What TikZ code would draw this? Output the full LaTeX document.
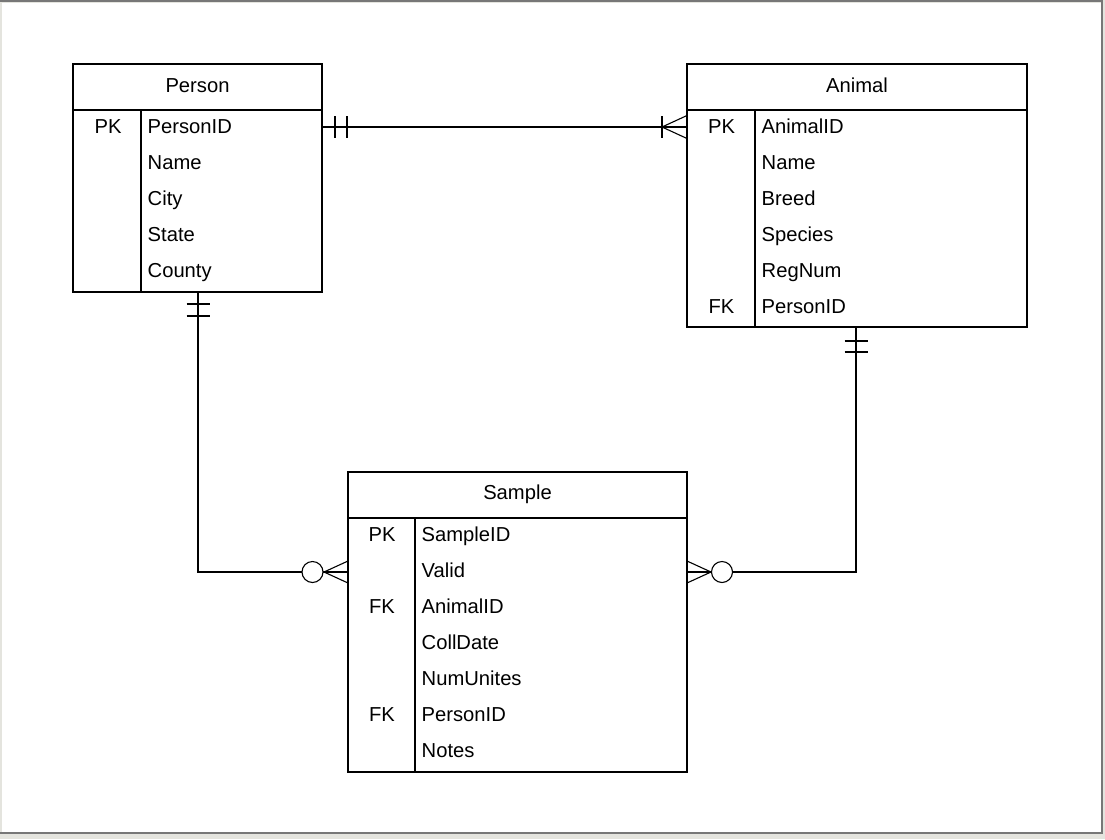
\documentclass[tikz,border=0pt]{standalone}
\usepackage{fontspec}
\setmainfont{Liberation Sans}
\usetikzlibrary{calc}
\definecolor{framedark}{HTML}{777777}
\definecolor{framelight}{HTML}{E4E4DE}
\begin{document}
\begin{tikzpicture}[x=1pt,y=-1pt,
  tablebox/.style={draw, line width=1.6pt, anchor=north west, inner sep=0pt, outer sep=0pt},
  boxline/.style={line width=1.6pt},
  txt/.style={inner sep=0pt, font=\fontsize{20.2}{24}\selectfont},
  fieldtext/.style={txt, anchor=base west},
  keytext/.style={txt, anchor=base},
  conn/.style={line width=1.1pt},
]
% frame
\useasboundingbox (0,0) rectangle (1105,839);
\fill[framelight] (0,0) rectangle (1105,839);
\fill[white] (2,3) rectangle (1101,832);
\fill[framedark] (0,0) rectangle (1103,2);
\fill[framedark] (1101,0) rectangle (1103,834);
\fill[framedark] (0,832) rectangle (1103,834);

% Person
\node[tablebox, minimum width=249pt, minimum height=228pt] (person) at (73,64) {};
\draw[boxline] ($(person.north west)+(0,46)$) -- ($(person.north east)+(0,46)$);
\draw[boxline] ($(person.north west)+(68,46)$) -- ($(person.south west)+(68,0)$);
\node[keytext] (personT) at (197.5,92) {Person};
\node[keytext] (personPK) at (108,133) {PK};
\node[fieldtext] (personF1) at (147.5,133) {PersonID};
\node[fieldtext] (personF2) at (147.5,169) {Name};
\node[fieldtext] (personF3) at (147.5,205) {City};
\node[fieldtext] (personF4) at (147.5,241) {State};
\node[fieldtext] (personF5) at (147.5,277) {County};

% Animal
\node[tablebox, minimum width=340pt, minimum height=263pt] (animal) at (687,64) {};
\draw[boxline] ($(animal.north west)+(0,46)$) -- ($(animal.north east)+(0,46)$);
\draw[boxline] ($(animal.north west)+(68,46)$) -- ($(animal.south west)+(68,0)$);
\node[keytext] (animalT) at (857,92) {Animal};
\node[keytext] (animalPK) at (721.5,133) {PK};
\node[keytext] (animalFK) at (721.5,313) {FK};
\node[fieldtext] (animalF1) at (761.5,133) {AnimalID};
\node[fieldtext] (animalF2) at (761.5,169) {Name};
\node[fieldtext] (animalF3) at (761.5,205) {Breed};
\node[fieldtext] (animalF4) at (761.5,241) {Species};
\node[fieldtext] (animalF5) at (761.5,277) {RegNum};
\node[fieldtext] (animalF6) at (761.5,313) {PersonID};

% Sample
\node[tablebox, minimum width=339pt, minimum height=300pt] (sample) at (348,472) {};
\draw[boxline] ($(sample.north west)+(0,46)$) -- ($(sample.north east)+(0,46)$);
\draw[boxline] ($(sample.north west)+(67,46)$) -- ($(sample.south west)+(67,0)$);
\node[keytext] (sampleT) at (517.5,499) {Sample};
\node[keytext] (samplePK) at (382,541) {PK};
\node[keytext] (sampleFK1) at (382,613) {FK};
\node[keytext] (sampleFK2) at (382,721) {FK};
\node[fieldtext] (sampleF1) at (421.5,541) {SampleID};
\node[fieldtext] (sampleF2) at (421.5,577) {Valid};
\node[fieldtext] (sampleF3) at (421.5,613) {AnimalID};
\node[fieldtext] (sampleF4) at (421.5,649) {CollDate};
\node[fieldtext] (sampleF5) at (421.5,685) {NumUnites};
\node[fieldtext] (sampleF6) at (421.5,721) {PersonID};
\node[fieldtext] (sampleF7) at (421.5,757) {Notes};

% Person -- Animal (one-and-only-one to one-or-many)
\coordinate (pa1) at ($(person.north east)+(0,63)$);
\coordinate (pa2) at ($(animal.north west)+(0,63)$);
\draw[conn] (pa1) -- (pa2);
\draw[conn] ($(pa1)+(13,-11)$) -- ($(pa1)+(13,11)$);
\draw[conn] ($(pa1)+(25,-11)$) -- ($(pa1)+(25,11)$);
\draw[conn] ($(pa2)+(-25,-11)$) -- ($(pa2)+(-25,11)$);
\draw[conn] ($(pa2)+(0,-11.5)$) -- ($(pa2)+(-25,0)$) -- ($(pa2)+(0,11.5)$);

% Person -- Sample (one-and-only-one to zero-or-many)
\coordinate (ps1) at ($(person.south west)+(125,0)$);
\coordinate (ps2) at ($(sample.north west)+(0,100)$);
\draw[conn] (ps1) |- (ps2);
\draw[conn] ($(ps1)+(-11.5,12)$) -- ($(ps1)+(11.5,12)$);
\draw[conn] ($(ps1)+(-11.5,24)$) -- ($(ps1)+(11.5,24)$);
\draw[conn] ($(ps2)+(0,-11)$) -- ($(ps2)+(-24,0)$) -- ($(ps2)+(0,11)$);
\draw[conn, fill=white] ($(ps2)+(-35.5,0)$) circle[radius=10.5];

% Animal -- Sample (one-and-only-one to zero-or-many)
\coordinate (as1) at ($(animal.south west)+(169,0)$);
\coordinate (as2) at ($(sample.north east)+(0,100)$);
\draw[conn] (as1) |- (as2);
\draw[conn] ($(as1)+(-11.5,14)$) -- ($(as1)+(11.5,14)$);
\draw[conn] ($(as1)+(-11.5,25)$) -- ($(as1)+(11.5,25)$);
\draw[conn] ($(as2)+(0,-11)$) -- ($(as2)+(24,0)$) -- ($(as2)+(0,11)$);
\draw[conn, fill=white] ($(as2)+(35,0)$) circle[radius=10.5];
\end{tikzpicture}
\end{document}
